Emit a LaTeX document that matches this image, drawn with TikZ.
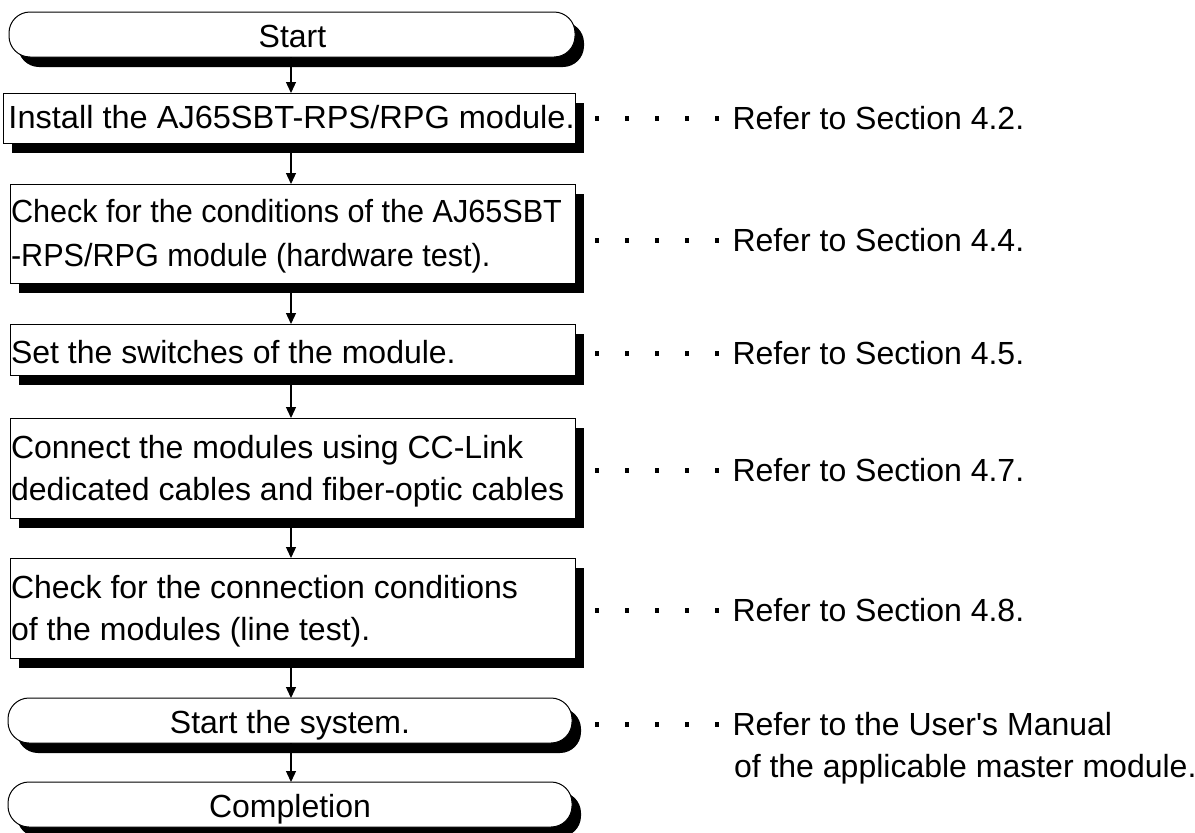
\documentclass[tikz,border=0pt]{standalone}
\usepackage{fontspec}
\setmainfont{Liberation Sans}
\usetikzlibrary{arrows.meta,shadows}
\begin{document}
\begin{tikzpicture}[x=1pt,y=-1pt,
  every node/.style={inner sep=0pt, outer sep=0pt},
  stepbox/.style={draw, line width=1pt, fill=white, rectangle, anchor=north west,
     general shadow={fill=black, shadow xshift=9pt, shadow yshift=-10pt}},
  termbox/.style={stepbox, rounded corners=21pt},
  lbl/.style={anchor=base west, font=\fontsize{32}{42}\selectfont},
  clbl/.style={anchor=base, font=\fontsize{32}{42}\selectfont},
  flow/.style={line width=1.3pt, -{Triangle[length=11pt,width=10pt]}},
  leader/.style={fill=black}
]
\useasboundingbox[fill=white] (0,0) rectangle (1195,833);

% boxes
\node[termbox, minimum width=566pt, minimum height=45pt] (n0) at (9,12) {};
\node[stepbox, minimum width=572pt, minimum height=50pt] (b1) at (3,93) {};
\node[stepbox, minimum width=565pt, minimum height=99pt] (b2) at (10,184) {};
\node[stepbox, minimum width=565pt, minimum height=51pt] (b3) at (10,324) {};
\node[stepbox, minimum width=565pt, minimum height=100pt] (b4) at (10,418) {};
\node[stepbox, minimum width=565pt, minimum height=100pt] (b5) at (10,558) {};
\node[termbox, minimum width=564pt, minimum height=45pt] (n6) at (8,698) {};
\node[termbox, minimum width=564pt, minimum height=45pt] (n7) at (8,782) {};

% texts in boxes
\node[clbl] (t0) at (292.5,47) {Start};
\node[lbl] (t1) at (8.5,128.5) {\scalebox{1.017}[1]{Install the AJ65SBT-RPS/RPG module.}};
\node[lbl] (t2a) at (11,222) {\scalebox{0.956}[1]{Check for the conditions of the AJ65SBT}};
\node[lbl] (t2b) at (11,266) {\scalebox{0.956}[1]{-RPS/RPG module (hardware test).}};
\node[lbl] (t3) at (11,363) {Set the switches of the module.};
\node[lbl] (t4a) at (11,458) {Connect the modules using CC-Link};
\node[lbl] (t4b) at (11,500) {dedicated cables and fiber-optic cables};
\node[lbl] (t5a) at (11,598) {Check for the connection conditions};
\node[lbl] (t5b) at (11,640) {of the modules (line test).};
\node[clbl] (t6) at (290,733) {Start the system.};
\node[clbl] (t7) at (290,817) {Completion};

% connectors
\coordinate (ax) at (291,0);
\draw[flow] (n0.south -| ax) -- (b1.north -| ax);
\draw[flow] (b1.south -| ax) -- (b2.north -| ax);
\draw[flow] (b2.south -| ax) -- (b3.north -| ax);
\draw[flow] (b3.south -| ax) -- (b4.north -| ax);
\draw[flow] (b4.south -| ax) -- (b5.north -| ax);
\draw[flow] (b5.south -| ax) -- (n6.north -| ax);
\draw[flow] (n6.south -| ax) -- (n7.north -| ax);

% leader dots
\foreach \yy in {118.5,240.5,353.5,470.5,610.5,724.5}
  \foreach \xx in {597,627,657,687,717}
    \fill[leader] (\xx-2.25,\yy-2.25) rectangle ++(4.5,4.5);

% references
\node[lbl] (r1) at (732.5,129) {Refer to Section 4.2.};
\node[lbl] (r2) at (732.5,251) {Refer to Section 4.4.};
\node[lbl] (r3) at (732.5,364) {Refer to Section 4.5.};
\node[lbl] (r4) at (732.5,481) {Refer to Section 4.7.};
\node[lbl] (r5) at (732.5,621) {Refer to Section 4.8.};
\node[lbl] (r6a) at (732.5,735) {Refer to the User\textquotesingle s Manual};
\node[lbl] (r6b) at (734,777) {of the applicable master module.};
\end{tikzpicture}
\end{document}
